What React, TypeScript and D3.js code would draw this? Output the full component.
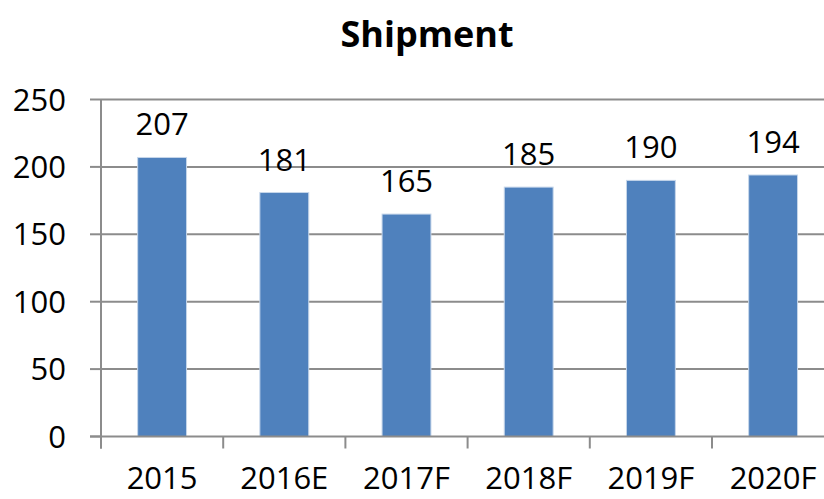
import React, { useEffect, useRef } from "react";
import * as d3 from "d3";

const categories = ["2015", "2016E", "2017F", "2018F", "2019F", "2020F"];
const shipments = [207, 181, 165, 185, 190, 194];
const yTicks = [0, 50, 100, 150, 200, 250];

const W = 824;
const H = 499;

export default function App() {
  const ref = useRef<SVGSVGElement | null>(null);

  useEffect(() => {
    const svg = d3.select(ref.current);
    svg.selectAll("*").remove();

    const left = 101;
    const band = 122.2;
    const x = d3
      .scaleBand()
      .domain(categories)
      .range([left, left + band * categories.length])
      .paddingInner(0.6)
      .paddingOuter(0.3);
    const y = d3.scaleLinear().domain([0, 250]).range([436.5, 99.5]);

    const font = "'Open Sans', sans-serif";
    const grey = "#8c8c8c";

    // gridlines
    svg
      .append("g")
      .selectAll("line")
      .data(yTicks.filter((d) => d > 0))
      .join("line")
      .attr("x1", left)
      .attr("x2", W)
      .attr("y1", (d) => y(d))
      .attr("y2", (d) => y(d))
      .attr("stroke", grey)
      .attr("stroke-width", 2);

    // bars
    svg
      .append("g")
      .selectAll("rect")
      .data(shipments)
      .join("rect")
      .attr("x", (d, i) => x(categories[i])!)
      .attr("y", (d) => y(d))
      .attr("width", x.bandwidth())
      .attr("height", (d) => y(0) - y(d))
      .attr("fill", "#4f81bd")
      .attr("stroke", "#c6d6ea")
      .attr("stroke-width", 1);

    // value labels
    svg
      .append("g")
      .attr("font-family", font)
      .attr("font-size", 31)
      .attr("text-anchor", "middle")
      .selectAll("text")
      .data(shipments)
      .join("text")
      .attr("x", (d, i) => x(categories[i])! + x.bandwidth() / 2)
      .attr("y", (d) => y(d) - 22)
      .text((d) => d);

    // y axis
    const yAxis = svg.append("g");
    yAxis
      .append("line")
      .attr("x1", left)
      .attr("x2", left)
      .attr("y1", y(250))
      .attr("y2", y(0) + 12)
      .attr("stroke", grey)
      .attr("stroke-width", 2);
    yAxis
      .selectAll("line.tick")
      .data(yTicks)
      .join("line")
      .attr("class", "tick")
      .attr("x1", left - 11)
      .attr("x2", left)
      .attr("y1", (d) => y(d))
      .attr("y2", (d) => y(d))
      .attr("stroke", grey)
      .attr("stroke-width", 2);
    yAxis
      .selectAll("text")
      .data(yTicks)
      .join("text")
      .attr("x", 66)
      .attr("y", (d) => y(d) + 11)
      .attr("text-anchor", "end")
      .attr("font-family", font)
      .attr("font-size", 31)
      .text((d) => d);

    // x axis
    const xAxis = svg.append("g");
    xAxis
      .append("line")
      .attr("x1", left - 11)
      .attr("x2", W)
      .attr("y1", y(0))
      .attr("y2", y(0))
      .attr("stroke", grey)
      .attr("stroke-width", 2);
    xAxis
      .selectAll("line.tick")
      .data(d3.range(categories.length))
      .join("line")
      .attr("class", "tick")
      .attr("x1", (i) => left + i * band)
      .attr("x2", (i) => left + i * band)
      .attr("y1", y(0))
      .attr("y2", y(0) + 12)
      .attr("stroke", grey)
      .attr("stroke-width", 2);
    xAxis
      .selectAll("text")
      .data(categories)
      .join("text")
      .attr("x", (d) => x(d)! + x.bandwidth() / 2)
      .attr("y", 489)
      .attr("text-anchor", "middle")
      .attr("font-family", font)
      .attr("font-size", 31)
      .text((d) => d);

    // title
    svg
      .append("text")
      .attr("x", 427)
      .attr("y", 47)
      .attr("text-anchor", "middle")
      .attr("font-family", font)
      .attr("font-weight", "bold")
      .attr("font-size", 36)
      .text("Shipment");
  }, []);

  return (
    <svg
      ref={ref}
      width={W}
      height={H}
      style={{ position: "absolute", left: 0, top: 0, background: "#fff" }}
    />
  );
}
